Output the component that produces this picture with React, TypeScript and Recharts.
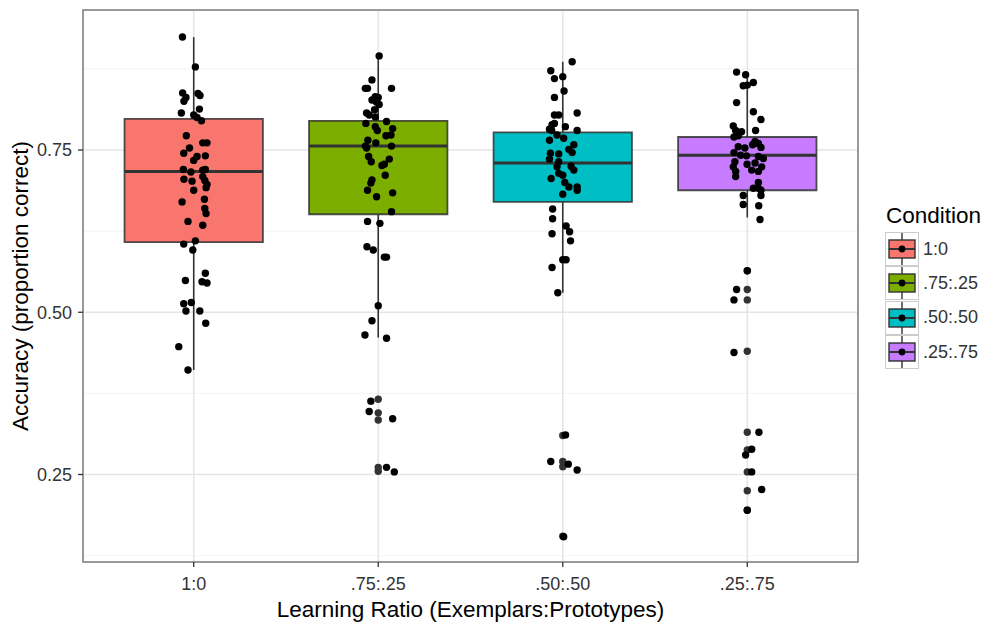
import {
  CartesianGrid,
  ComposedChart,
  ReferenceArea,
  ReferenceLine,
  Scatter,
  XAxis,
  YAxis,
} from "recharts";

const categories = ["1:0", ".75:.25", ".50:.50", ".25:.75"];
const boxFills = ["#F8766D", "#7CAE00", "#00BFC4", "#C77CFF"];

const whiskerLow = [0.411, 0.461, 0.53, 0.646];
const lowerQuartile = [0.608, 0.651, 0.67, 0.688];
const medians = [0.717, 0.756, 0.73, 0.742];
const upperQuartile = [0.798, 0.795, 0.777, 0.77];
const whiskerHigh = [0.924, 0.895, 0.886, 0.87];

// boxplot outliers (drawn at the group centre)
const outliers = [
  [],
  [0.366, 0.345, 0.334, 0.261, 0.255],
  [0.31, 0.27, 0.262, 0.155],
  [0.564, 0.535, 0.519, 0.44, 0.315, 0.288, 0.254, 0.225, 0.195],
];

// jittered raw points: [x offset from group centre, accuracy]
const ratioOneZero = [
  [-0.061, 0.924], [0.009, 0.878], [-0.06, 0.838], [-0.042, 0.831], [-0.053, 0.825],
  [0.023, 0.837], [0.034, 0.834], [0.031, 0.813], [-0.067, 0.807], [0.0, 0.804],
  [0.018, 0.8], [0.042, 0.795], [-0.04, 0.772], [0.049, 0.761], [0.072, 0.761],
  [-0.023, 0.753], [-0.054, 0.745], [0.063, 0.741], [0.018, 0.74], [0.0, 0.734],
  [-0.056, 0.72], [-0.015, 0.716], [0.049, 0.719], [0.063, 0.72], [-0.053, 0.705],
  [-0.009, 0.702], [0.049, 0.709], [0.06, 0.703], [0.072, 0.697], [0.067, 0.692],
  [0.0, 0.688], [-0.063, 0.67], [0.058, 0.674], [0.06, 0.66], [0.067, 0.652],
  [-0.031, 0.64], [0.049, 0.634], [-0.054, 0.605], [0.009, 0.61], [-0.005, 0.596],
  [-0.045, 0.549], [0.063, 0.56], [0.045, 0.547], [0.072, 0.545], [-0.054, 0.513],
  [-0.013, 0.515], [-0.042, 0.502], [0.033, 0.502], [0.065, 0.483], [-0.081, 0.447],
  [-0.031, 0.411],
];
const ratioThreeOne = [
  [0.005, 0.895], [-0.034, 0.858], [-0.07, 0.845], [-0.058, 0.845], [0.072, 0.845],
  [-0.016, 0.832], [0.0, 0.831], [-0.034, 0.827], [-0.01, 0.824], [0.005, 0.82],
  [-0.063, 0.807], [-0.049, 0.804], [-0.02, 0.812], [-0.016, 0.801], [-0.067, 0.791],
  [0.045, 0.794], [-0.016, 0.786], [-0.005, 0.78], [0.078, 0.783], [0.069, 0.773],
  [0.042, 0.772], [-0.056, 0.765], [-0.013, 0.761], [-0.07, 0.756], [-0.063, 0.753],
  [0.072, 0.756], [-0.052, 0.74], [-0.038, 0.732], [0.06, 0.736], [0.033, 0.728],
  [0.02, 0.726], [0.038, 0.711], [-0.034, 0.704], [-0.04, 0.699], [-0.058, 0.688],
  [0.078, 0.684], [-0.009, 0.678], [0.072, 0.655], [-0.058, 0.64], [0.009, 0.637],
  [-0.061, 0.601], [-0.027, 0.596], [0.033, 0.585], [0.045, 0.585], [0.0, 0.51],
  [-0.034, 0.487], [-0.072, 0.465], [0.045, 0.46], [-0.04, 0.363], [-0.049, 0.347],
  [0.078, 0.336], [0.045, 0.261], [0.087, 0.254],
];
const ratioEven = [
  [0.051, 0.886], [-0.065, 0.872], [-0.045, 0.86], [0.0, 0.863], [0.007, 0.841],
  [-0.045, 0.831], [-0.045, 0.804], [-0.022, 0.804], [0.078, 0.807], [-0.058, 0.789],
  [-0.045, 0.791], [0.014, 0.786], [-0.072, 0.782], [-0.06, 0.78], [0.078, 0.78],
  [-0.031, 0.773], [0.005, 0.768], [-0.072, 0.765], [0.06, 0.758], [0.033, 0.751],
  [0.051, 0.746], [-0.067, 0.745], [-0.022, 0.744], [-0.072, 0.736], [-0.022, 0.732],
  [-0.031, 0.724], [0.045, 0.725], [0.06, 0.719], [-0.022, 0.714], [0.0, 0.711],
  [-0.063, 0.706], [0.011, 0.7], [0.033, 0.693], [0.078, 0.693], [0.078, 0.688],
  [0.0, 0.682], [-0.055, 0.659], [-0.055, 0.644], [0.018, 0.633], [0.037, 0.624],
  [-0.058, 0.621], [0.042, 0.61], [0.0, 0.581], [0.018, 0.581], [-0.058, 0.569],
  [-0.027, 0.53], [0.015, 0.311], [-0.065, 0.27], [0.03, 0.266], [0.078, 0.257],
  [0.005, 0.154],
];
const ratioOneThree = [
  [-0.058, 0.87], [-0.009, 0.866], [0.033, 0.854], [0.0, 0.85], [-0.022, 0.849],
  [-0.058, 0.823], [0.033, 0.809], [0.074, 0.797], [-0.076, 0.787], [-0.063, 0.78],
  [-0.031, 0.778], [0.045, 0.78], [-0.072, 0.77], [-0.049, 0.772], [0.042, 0.763],
  [0.06, 0.76], [0.029, 0.758], [0.074, 0.754], [-0.049, 0.755], [-0.013, 0.753],
  [-0.072, 0.746], [-0.036, 0.742], [-0.004, 0.741], [0.06, 0.74], [0.087, 0.737],
  [-0.067, 0.732], [-0.001, 0.728], [0.042, 0.73], [0.078, 0.724], [-0.076, 0.724],
  [0.024, 0.719], [0.06, 0.717], [-0.063, 0.717], [-0.063, 0.709], [0.06, 0.7],
  [0.033, 0.691], [0.06, 0.691], [0.074, 0.688], [-0.022, 0.68], [0.074, 0.68],
  [-0.022, 0.666], [0.062, 0.664], [0.069, 0.643], [0.0, 0.564], [-0.058, 0.535],
  [-0.072, 0.519], [-0.072, 0.438], [0.063, 0.315], [0.024, 0.289], [-0.009, 0.28],
  [0.024, 0.254], [0.078, 0.227], [0.0, 0.195],
];

const yTicks = [0.25, 0.5, 0.75];
const yMinorTicks = [0.125, 0.375, 0.625, 0.875];
const xTicks = [1, 2, 3, 4];

const Y_DOMAIN: [number, number] = [0.1152, 0.9657];
const X_DOMAIN: [number, number] = [0.4, 4.6];
const BOX_HALF = 0.375;
const FONT = "'Liberation Sans', Arial, sans-serif";

const jitterGroups = [ratioOneZero, ratioThreeOne, ratioEven, ratioOneThree];
const jitterData = jitterGroups.flatMap((pts, i) =>
  pts.map(([dx, y]) => ({ x: i + 1 + dx, y })),
);
const outlierData = outliers.flatMap((vals, i) => vals.map((y) => ({ x: i + 1, y })));

const dot = (fill: string) => (p: any) => (
  <circle cx={p.cx} cy={p.cy} r={3.7} fill={fill} />
);

function LegendKey({ fill }: { fill: string }) {
  return (
    <svg width={34} height={34} style={{ display: "block" }}>
      <rect x={0.5} y={0.5} width={33} height={33} fill="#fff" stroke="#ccc" />
      <line x1={17} y1={1} x2={17} y2={33} stroke="#333" strokeWidth={1.4} />
      <rect x={4} y={8} width={26} height={18} fill={fill} stroke="#333" strokeWidth={1.4} />
      <line x1={4} y1={17} x2={30} y2={17} stroke="#333" strokeWidth={2} />
      <circle cx={17} cy={17} r={3.4} fill="#000" />
    </svg>
  );
}

export default function App() {
  return (
    <div style={{ position: "relative", width: 987, height: 623, background: "#fff" }}>
      <style>{`body{margin:0}`}</style>
      <ComposedChart
        width={987}
        height={623}
        margin={{ top: 10, right: 129, bottom: 0, left: 0 }}
        style={{ fontFamily: FONT }}
      >
        <CartesianGrid
          yAxisId="minor"
          vertical={false}
          stroke="#f5f5f5"
          strokeWidth={1.2}
        />
        <CartesianGrid stroke="#e5e5e5" strokeWidth={1.5} />
        <XAxis
          type="number"
          dataKey="x"
          domain={X_DOMAIN}
          ticks={xTicks}
          allowDataOverflow
          tickFormatter={(v: number) => categories[v - 1] ?? ""}
          height={61}
          axisLine={false}
          tickSize={5}
          tickMargin={10}
          tickLine={{ stroke: "#333", strokeWidth: 1.3 }}
          tick={{ fill: "#333", fontSize: 18, fontFamily: FONT }}
          label={{
            value: "Learning Ratio (Exemplars:Prototypes)",
            position: "insideBottom",
            offset: 6,
            fill: "#000",
            fontSize: 22.5,
            fontFamily: FONT,
          }}
        />
        <YAxis
          type="number"
          dataKey="y"
          domain={Y_DOMAIN}
          ticks={yTicks}
          allowDataOverflow
          tickFormatter={(v: number) => v.toFixed(2)}
          width={83}
          axisLine={false}
          tickSize={5}
          tickMargin={6}
          tickLine={{ stroke: "#333", strokeWidth: 1.3 }}
          tick={{ fill: "#333", fontSize: 18, fontFamily: FONT }}
          label={(props: any) => {
            const vb = props.viewBox;
            const cx = vb.x + 20;
            const cy = vb.y + vb.height / 2;
            return (
              <text
                x={cx}
                y={cy}
                transform={`rotate(-90 ${cx} ${cy})`}
                textAnchor="middle"
                dominantBaseline="central"
                fill="#000"
                fontSize={22.5}
                fontFamily={FONT}
              >
                Accuracy (proportion correct)
              </text>
            );
          }}
        />
        <YAxis
          yAxisId="minor"
          type="number"
          domain={Y_DOMAIN}
          ticks={yMinorTicks}
          allowDataOverflow
          hide
        />

        {categories.map((c, i) => (
          <ReferenceLine
            key={`wl-${c}`}
            segment={[
              { x: i + 1, y: whiskerLow[i] },
              { x: i + 1, y: lowerQuartile[i] },
            ]}
            stroke="#333"
            strokeWidth={1.6}
          />
        ))}
        {categories.map((c, i) => (
          <ReferenceLine
            key={`wh-${c}`}
            segment={[
              { x: i + 1, y: upperQuartile[i] },
              { x: i + 1, y: whiskerHigh[i] },
            ]}
            stroke="#333"
            strokeWidth={1.6}
          />
        ))}
        {categories.map((c, i) => (
          <ReferenceArea
            key={`box-${c}`}
            x1={i + 1 - BOX_HALF}
            x2={i + 1 + BOX_HALF}
            y1={lowerQuartile[i]}
            y2={upperQuartile[i]}
            fill={boxFills[i]}
            fillOpacity={1}
            stroke="#333"
            strokeWidth={1.8}
            strokeOpacity={0.85}
          />
        ))}
        {categories.map((c, i) => (
          <ReferenceLine
            key={`med-${c}`}
            segment={[
              { x: i + 1 - BOX_HALF, y: medians[i] },
              { x: i + 1 + BOX_HALF, y: medians[i] },
            ]}
            stroke="#333"
            strokeWidth={3}
          />
        ))}

        <Scatter
          data={outlierData}
          dataKey="y"
          isAnimationActive={false}
          shape={dot("#333")}
        />
        <Scatter
          data={jitterData}
          dataKey="y"
          isAnimationActive={false}
          shape={dot("#000")}
        />

        <ReferenceArea
          x1={X_DOMAIN[0]}
          x2={X_DOMAIN[1]}
          y1={Y_DOMAIN[0]}
          y2={Y_DOMAIN[1]}
          fill="none"
          stroke="#7f7f7f"
          strokeWidth={1.5}
        />
      </ComposedChart>

      <div
        style={{
          position: "absolute",
          left: 885,
          top: 203,
          fontFamily: FONT,
          color: "#000",
        }}
      >
        <div style={{ fontSize: 22.5, lineHeight: "26px", marginLeft: 1, marginBottom: 3 }}>
          Condition
        </div>
        {categories.map((c, i) => (
          <div key={c} style={{ display: "flex", alignItems: "center", height: 34.3 }}>
            <LegendKey fill={boxFills[i]} />
            <span style={{ fontSize: 18, marginLeft: 4, color: "#333" }}>{c}</span>
          </div>
        ))}
      </div>
    </div>
  );
}
